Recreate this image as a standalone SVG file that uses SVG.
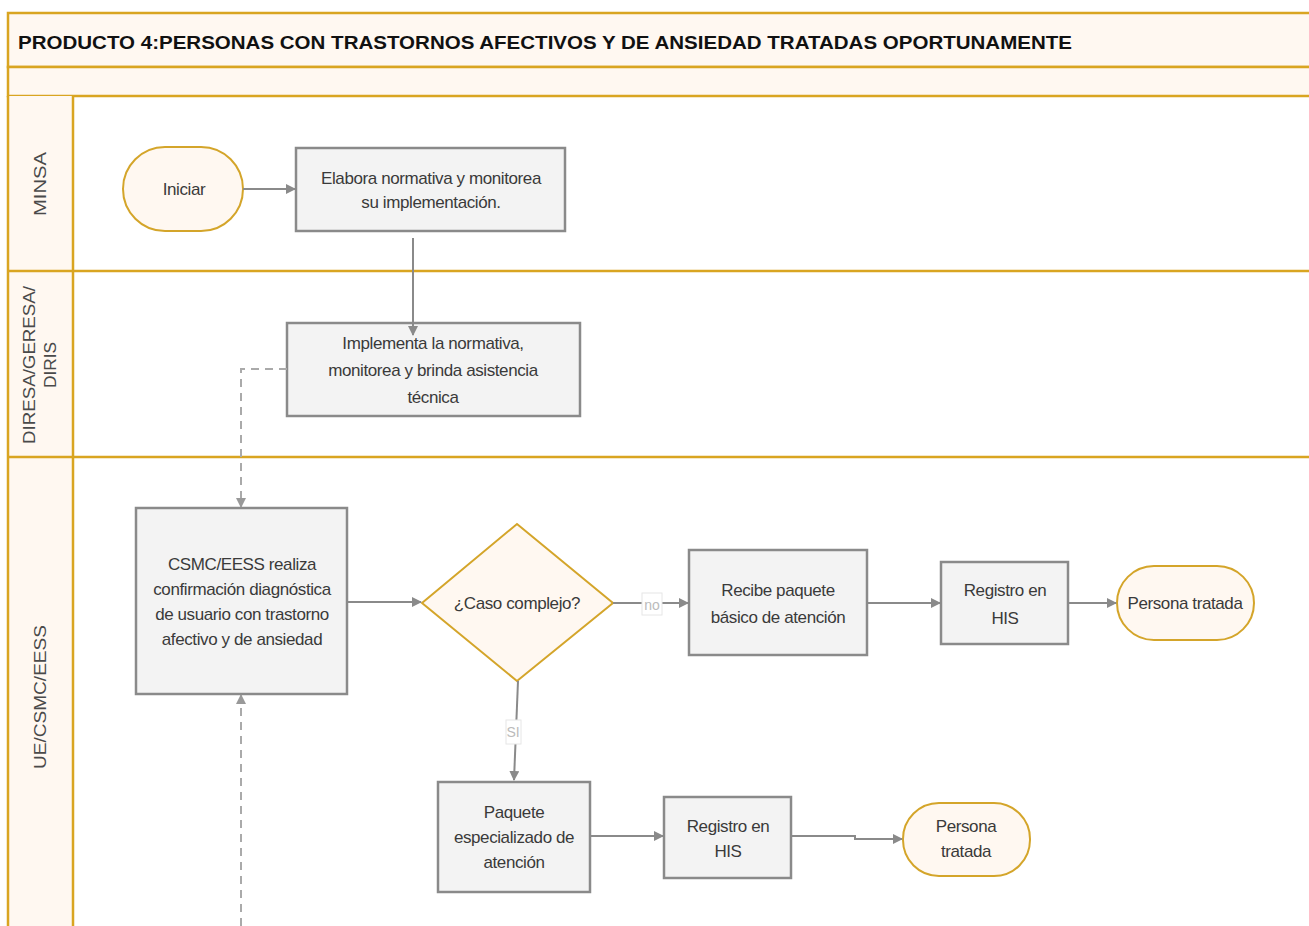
<svg xmlns="http://www.w3.org/2000/svg" width="1309" height="926" viewBox="0 0 1309 926">
<style>
.lane{fill:#fff8f1;stroke:#d9a521;stroke-width:2.5}
.sep{stroke:#d9a521;stroke-width:2.5;fill:none}
.box{fill:#f3f3f3;stroke:#8a8a8a;stroke-width:2.5}
.term{fill:#fff8f1;stroke:#d4a52a;stroke-width:2}
.t{font-family:"Liberation Sans",Arial,sans-serif;font-size:17px;fill:#3a3a3a;text-anchor:middle;letter-spacing:-0.4px}
.lt{font-family:"Liberation Sans",Arial,sans-serif;font-size:16px;fill:#4a4a4a;text-anchor:middle}
.title{font-family:"Liberation Sans",Arial,sans-serif;font-size:19px;font-weight:bold;fill:#111}
.c{stroke:#8a8a8a;stroke-width:2;fill:none}
.d{stroke:#aaaaaa;stroke-width:2;fill:none;stroke-dasharray:8 6}
.lbl{font-family:"Liberation Sans",Arial,sans-serif;font-size:14px;fill:#bbb;text-anchor:middle}
</style>
<defs>
<marker id="ah" viewBox="0 0 10 10" refX="9" refY="5" markerWidth="5" markerHeight="5" orient="auto">
<path d="M0,0 L10,5 L0,10 z" fill="#8a8a8a"/>
</marker>
<marker id="ahd" viewBox="0 0 10 10" refX="9" refY="5" markerWidth="5" markerHeight="5" orient="auto">
<path d="M0,0 L10,5 L0,10 z" fill="#999"/>
</marker>
</defs>
<rect width="1309" height="926" fill="#ffffff"/>
<g id="pool">
<rect class="lane" x="8" y="13" width="1310" height="54"/>
<rect class="lane" x="8" y="67" width="1310" height="29"/>
<rect x="8" y="96" width="65" height="840" fill="#fff8f1"/>
<line class="sep" x1="8" y1="96" x2="8" y2="930"/>
<line class="sep" x1="73" y1="96" x2="73" y2="930"/>
<line class="sep" x1="8" y1="271" x2="1310" y2="271"/>
<line class="sep" x1="8" y1="457" x2="1310" y2="457"/>
<text class="title" x="18" y="49" textLength="1054" lengthAdjust="spacingAndGlyphs">PRODUCTO 4:PERSONAS CON TRASTORNOS AFECTIVOS Y DE ANSIEDAD TRATADAS OPORTUNAMENTE</text>
<text class="lt" transform="translate(46,184) rotate(-90)" textLength="64" lengthAdjust="spacingAndGlyphs">MINSA</text>
<text class="lt" transform="translate(35,365) rotate(-90)" textLength="158" lengthAdjust="spacingAndGlyphs">DIRESA/GERESA/</text>
<text class="lt" transform="translate(56,365) rotate(-90)" textLength="46" lengthAdjust="spacingAndGlyphs">DIRIS</text>
<text class="lt" transform="translate(46,697) rotate(-90)" textLength="144" lengthAdjust="spacingAndGlyphs">UE/CSMC/EESS</text>
</g>
<g id="iniciar">
<rect class="term" x="123" y="147" width="120" height="84" rx="42" ry="42"/>
<text class="t" x="184" y="195">Iniciar</text>
</g>
<g id="elabora">
<rect class="box" x="296" y="148" width="269" height="83"/>
<text class="t" x="431" y="184">Elabora normativa  y monitorea</text>
<text class="t" x="431" y="208">su implementación.</text>
</g>
<g id="implementa">
<rect class="box" x="287" y="323" width="293" height="93"/>
<text class="t" x="433" y="349">Implementa la  normativa,</text>
<text class="t" x="433" y="376">monitorea y brinda asistencia</text>
<text class="t" x="433" y="403">técnica</text>
</g>
<g id="csmc">
<rect class="box" x="136" y="508" width="211" height="186"/>
<text class="t" x="242" y="570">CSMC/EESS realiza</text>
<text class="t" x="242" y="595">confirmación diagnóstica</text>
<text class="t" x="242" y="620">de usuario con trastorno</text>
<text class="t" x="242" y="645">afectivo y de ansiedad</text>
</g>
<g id="decision">
<polygon class="term" points="517,524 613,603 517,681 422,603"/>
<text class="t" x="517" y="609">¿Caso complejo?</text>
</g>
<g id="recibe">
<rect class="box" x="689" y="550" width="178" height="105"/>
<text class="t" x="778" y="596">Recibe paquete</text>
<text class="t" x="778" y="623">básico de atención</text>
</g>
<g id="registro1">
<rect class="box" x="941" y="562" width="127" height="82"/>
<text class="t" x="1005" y="596">Registro en</text>
<text class="t" x="1005" y="624">HIS</text>
</g>
<g id="persona1">
<rect class="term" x="1117" y="566" width="137" height="74" rx="37" ry="37"/>
<text class="t" x="1185" y="609">Persona tratada</text>
</g>
<g id="paquete">
<rect class="box" x="438" y="782" width="152" height="110"/>
<text class="t" x="514" y="818">Paquete</text>
<text class="t" x="514" y="843">especializado de</text>
<text class="t" x="514" y="868">atención</text>
</g>
<g id="registro2">
<rect class="box" x="664" y="797" width="127" height="81"/>
<text class="t" x="728" y="832">Registro en</text>
<text class="t" x="728" y="857">HIS</text>
</g>
<g id="persona2">
<rect class="term" x="903" y="803" width="127" height="73" rx="36" ry="36"/>
<text class="t" x="966" y="832">Persona</text>
<text class="t" x="966" y="857">tratada</text>
</g>
<g id="connectors">
<line class="c" x1="243" y1="189" x2="295" y2="189" marker-end="url(#ah)"/>
<line class="c" x1="413" y1="238" x2="413" y2="335" marker-end="url(#ah)"/>
<path class="d" d="M287,369 H241 V507" marker-end="url(#ahd)"/>
<path class="d" d="M241,926 V695" marker-end="url(#ahd)"/>
<line class="c" x1="347" y1="602" x2="421" y2="602" marker-end="url(#ah)"/>
<line class="c" x1="613" y1="603" x2="688" y2="603" marker-end="url(#ah)"/>
<rect x="642" y="593" width="20" height="22" fill="#fff" stroke="#e6e6e6" stroke-width="1"/>
<text class="lbl" x="652" y="610">no</text>
<line class="c" x1="867" y1="603" x2="940" y2="603" marker-end="url(#ah)"/>
<line class="c" x1="1068" y1="603" x2="1116" y2="603" marker-end="url(#ah)"/>
<path class="c" d="M518,681 L514,780" marker-end="url(#ah)"/>
<rect x="506" y="720" width="15" height="24" fill="#fff" stroke="#e6e6e6" stroke-width="1"/>
<text class="lbl" x="513" y="737">SI</text>
<line class="c" x1="590" y1="836" x2="663" y2="836" marker-end="url(#ah)"/>
<path class="c" d="M791,836 H855 L855,839 H902" marker-end="url(#ah)"/>
</g>
</svg>
